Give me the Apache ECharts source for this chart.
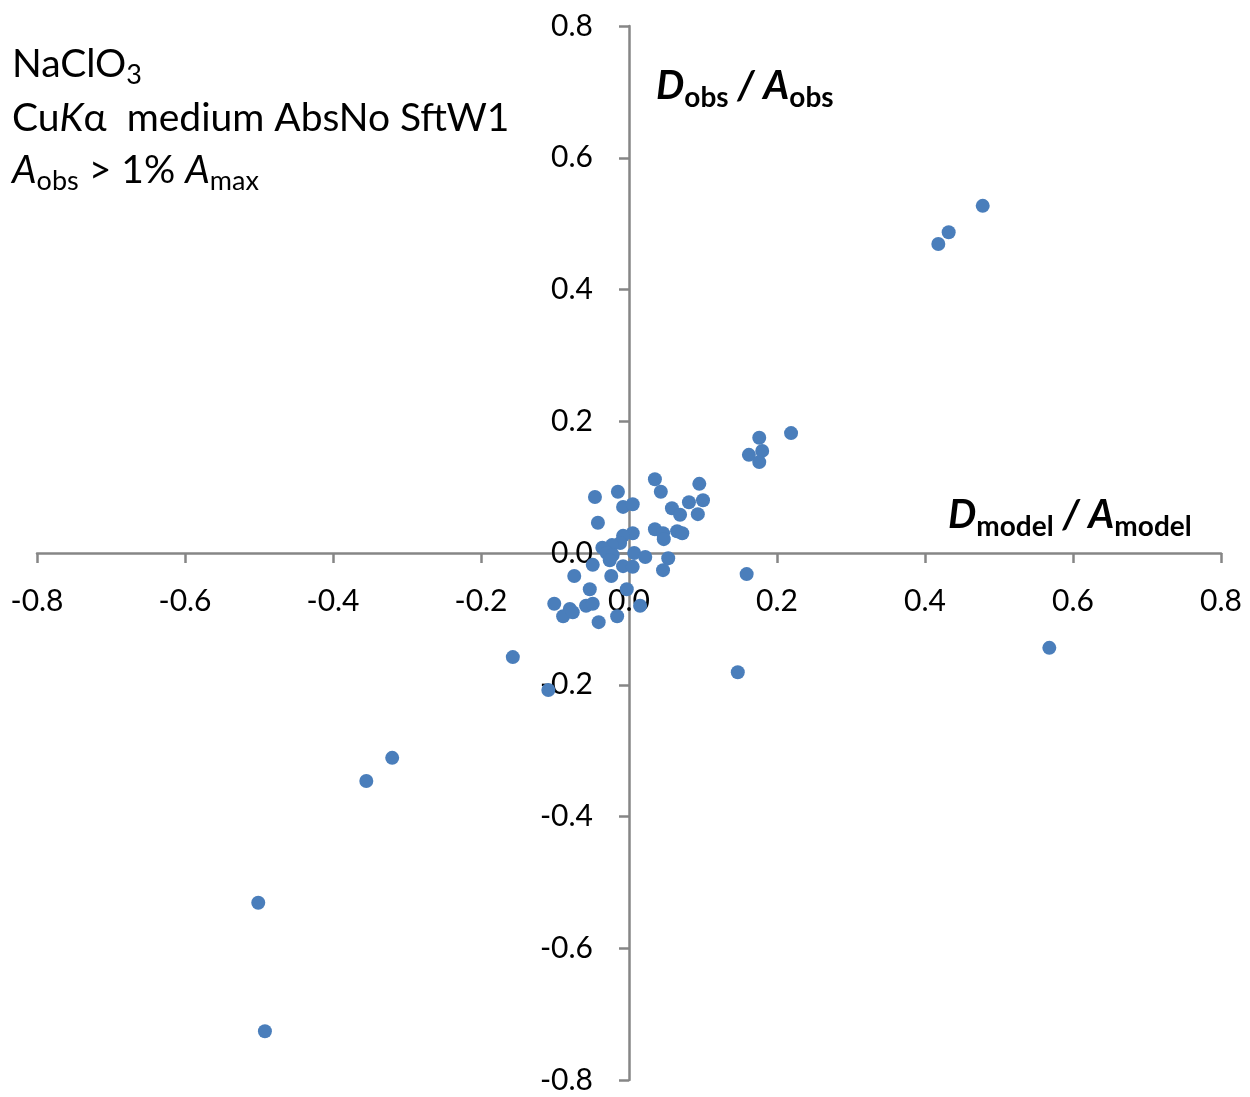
<!DOCTYPE html>
<html>
<head>
<meta charset="utf-8">
<script src="https://cdn.jsdelivr.net/npm/echarts@6/dist/echarts.min.js"></script>
<style>
html,body{margin:0;padding:0;background:#fff;}
#chart{width:1250px;height:1097px;}
</style>
</head>
<body>
<div id="chart"></div>
<script>
// D_model / A_model (x) and D_obs / A_obs (y)
const xValues = [
  0.035, 0.043, 0.095, 0.100, 0.081, 0.093, 0.058, 0.069, -0.015, -0.046,
  -0.008, 0.005, -0.042, 0.035, 0.046, 0.047, 0.065, 0.072, 0.005, -0.008,
  -0.012, -0.023, -0.036, -0.030, -0.022, -0.026, -0.049, 0.007, 0.022, 0.053,
  -0.008, 0.005, 0.046, -0.024, -0.074, -0.053, -0.003, -0.101, -0.080, -0.089,
  -0.076, -0.058, -0.049, -0.016, -0.041, 0.015,
  0.478, 0.432, 0.418, 0.219, 0.176, 0.180, 0.162, 0.176, 0.159, 0.147,
  0.568, -0.157, -0.109, -0.320, -0.355, -0.501, -0.492
];
const yValues = [
  0.112, 0.093, 0.105, 0.080, 0.077, 0.059, 0.068, 0.058, 0.093, 0.085,
  0.070, 0.074, 0.046, 0.036, 0.030, 0.021, 0.033, 0.030, 0.030, 0.026,
  0.015, 0.012, 0.008, 0.000, -0.003, -0.011, -0.018, 0.000, -0.006, -0.008,
  -0.020, -0.021, -0.026, -0.035, -0.035, -0.055, -0.055, -0.077, -0.085, -0.096,
  -0.090, -0.080, -0.077, -0.096, -0.105, -0.080,
  0.527, 0.487, 0.469, 0.182, 0.175, 0.155, 0.149, 0.138, -0.032, -0.181,
  -0.144, -0.158, -0.208, -0.311, -0.346, -0.531, -0.726
];
const axisMin = -0.8, axisMax = 0.8, axisStep = 0.2;

const points = xValues.map((x, i) => [x, yValues[i]]);
const FONT = 'Lato';
const axisColor = '#868686';

const W = 1250, H = 1097;
const gridL = 37, gridR = 29, gridT = 26, gridB = 17;
const plotW = W - gridL - gridR, plotH = H - gridT - gridB;

const chart = echarts.init(document.getElementById('chart'), null, {renderer: 'canvas'});
const titleRich = {
  b: {fontFamily: FONT, fontSize: 39, color: '#000', height: 48, lineHeight: 48, verticalAlign: 'middle'},
  i: {fontFamily: FONT, fontSize: 39, color: '#000', fontStyle: 'italic', height: 48, lineHeight: 48, verticalAlign: 'middle'},
  s: {fontFamily: FONT, fontSize: 27, color: '#000', height: 26, verticalAlign: 'bottom'}
};
const labRich = {
  b: {fontFamily: FONT, fontSize: 40, fontWeight: 'bold', fontStyle: 'italic', color: '#000', height: 50, lineHeight: 50, verticalAlign: 'middle'},
  s: {fontFamily: FONT, fontSize: 28, fontWeight: 'bold', color: '#000', height: 26, verticalAlign: 'bottom'}
};
chart.setOption({
  animation: false,
  grid: {left: gridL, right: gridR, top: gridT, bottom: gridB, containLabel: false, outerBoundsMode: 'none'},
  xAxis: {
    type: 'value', min: axisMin, max: axisMax, interval: axisStep,
    position: 'bottom', offset: -plotH / 2,
    axisLine: {onZero: false, lineStyle: {color: axisColor, width: 2.5}},
    axisTick: {show: true, length: 10, lineStyle: {color: axisColor, width: 2.5}},
    axisLabel: {margin: 33, fontFamily: FONT, fontSize: 30, color: '#000',
      formatter: v => v.toFixed(1), showMinLabel: true, showMaxLabel: true, hideOverlap: false},
    splitLine: {show: false}
  },
  yAxis: {
    type: 'value', min: axisMin, max: axisMax, interval: axisStep,
    position: 'left', offset: -plotW / 2,
    axisLine: {onZero: false, lineStyle: {color: axisColor, width: 2.5}},
    axisTick: {show: true, length: 10, lineStyle: {color: axisColor, width: 2.5}},
    axisLabel: {margin: 36, fontFamily: FONT, fontSize: 30, color: '#000',
      formatter: v => v.toFixed(1), showMinLabel: true, showMaxLabel: true, hideOverlap: false},
    splitLine: {show: false}
  },
  series: [{
    type: 'scatter',
    data: points,
    symbol: 'circle',
    symbolSize: 14,
    itemStyle: {color: '#4a7ebb', opacity: 1},
    z: 3
  }],
  graphic: [
    {type: 'text', left: 12, top: 40, z: 10, style: {text: '{b|NaClO}{s|3}', rich: titleRich}},
    {type: 'text', left: 12, top: 94, z: 10, style: {text: '{b|Cu}{i|K}{b|α  medium AbsNo SftW1}', rich: titleRich}},
    {type: 'text', left: 12, top: 146, z: 10, style: {text: '{i|A}{s|obs}{b| > 1% }{i|A}{s|max}', rich: titleRich}},
    {type: 'text', left: 656, top: 61, z: 10, style: {text: '{b|D}{s|obs}{b| / A}{s|obs}', rich: labRich}},
    {type: 'text', left: 948, top: 490, z: 10, style: {text: '{b|D}{s|model}{b| / A}{s|model}', rich: labRich}}
  ]
});
</script>
</body>
</html>
